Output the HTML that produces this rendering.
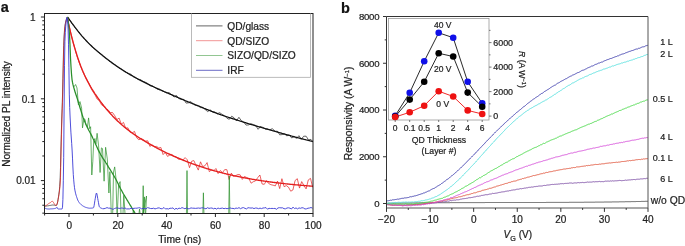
<!DOCTYPE html>
<html><head><meta charset="utf-8"><style>
html,body{margin:0;padding:0;background:#fff;}
svg{display:block;font-family:"Liberation Sans",sans-serif;will-change:transform;}
text{stroke:#222;stroke-width:0.22px;}
</style></head><body>
<svg width="685" height="246" viewBox="0 0 685 246">
<rect width="685" height="246" fill="#fff"/>
<g id="pa">
<defs><clipPath id="ca"><rect x="44.5" y="13.5" width="268.5" height="200"/></clipPath></defs>
<g clip-path="url(#ca)" fill="none" stroke-linejoin="round">
<polyline stroke="#222" stroke-width="0.7" points="44.5,206.2 44.9,206.2 45.3,206.1 45.7,206.1 46.1,206.0 46.5,206.0 46.9,205.9 47.3,205.9 47.7,205.8 48.1,205.8 48.5,205.7 48.9,205.7 49.3,205.6 49.7,205.5 50.1,205.5 50.5,205.4 50.9,205.3 51.3,205.2 51.7,205.2 52.1,205.1 52.5,205.0 52.9,205.0 53.3,205.0 53.7,205.1 54.1,205.1 54.5,205.2 54.9,205.3 55.3,205.4 55.7,205.5 56.1,205.5 56.5,205.3 56.9,204.5 57.3,203.5 57.7,201.8 58.1,199.3 58.5,196.8 58.9,194.2 59.3,191.0 59.7,186.6 60.1,180.1 60.5,167.7 60.9,150.0 61.3,134.5 61.7,120.0 62.1,108.3 62.5,96.0 62.9,78.2 63.3,60.0 63.7,45.4 64.1,36.1 64.5,30.1 64.9,26.4 65.3,23.7 65.7,21.8 66.1,20.3 66.5,19.0 66.9,17.9 67.3,17.2 67.5,17.0 68.5,18.4 70.9,21.8 73.3,25.0 75.7,28.2 78.1,31.3 80.5,34.3 82.9,37.1 85.3,39.7 87.7,42.3 90.1,44.7 92.5,47.0 94.9,49.1 97.3,51.2 99.7,53.2 102.1,55.1 104.5,57.1 106.9,58.9 109.3,60.8 111.7,62.4 114.1,64.1 116.5,65.7 118.9,67.6 121.3,68.9 123.7,70.8 126.1,72.3 128.5,73.6 130.9,74.2 133.3,76.3 135.7,77.8 138.1,79.2 140.5,79.6 142.9,81.3 145.3,82.2 147.7,83.5 150.1,85.8 152.5,85.8 154.9,87.4 157.3,89.2 159.7,89.2 162.1,90.6 164.5,91.8 166.9,92.8 169.3,92.8 171.7,94.9 174.1,97.0 176.5,95.5 178.9,98.7 181.3,99.1 183.7,99.4 186.1,103.1 188.5,102.8 190.9,101.6 193.3,104.0 195.7,105.5 198.1,105.6 200.5,107.6 202.9,107.7 205.3,109.6 207.7,111.6 210.1,109.8 212.5,111.9 214.9,112.0 217.3,113.7 219.7,112.7 222.1,114.4 224.5,115.7 226.9,118.2 229.3,119.3 231.7,116.2 234.1,117.8 236.5,120.9 238.9,117.3 241.3,120.6 243.7,122.0 246.1,125.1 248.5,124.9 250.9,123.8 253.3,124.5 255.7,125.4 258.1,129.3 260.5,126.5 262.9,127.4 265.3,129.2 267.7,129.1 270.1,129.6 272.5,128.7 274.9,131.3 277.3,131.2 279.7,134.8 282.1,134.6 284.5,134.0 286.9,135.9 289.3,134.8 291.7,138.0 294.1,136.7 296.5,138.4 298.9,135.7 301.3,139.3 303.7,136.2 306.1,136.2 308.5,139.9 310.9,139.4 313.3,141.9"/>
<polyline stroke="#111" stroke-width="1.25" points="67.5,17.0 68.0,17.7 68.5,18.4 69.0,19.1 69.5,19.8 70.0,20.5 70.5,21.2 71.0,21.9 71.5,22.6 72.0,23.3 72.5,23.9 73.0,24.6 73.5,25.3 74.0,25.9 74.5,26.6 75.0,27.3 75.5,27.9 76.0,28.6 76.5,29.2 77.0,29.9 77.5,30.5 78.0,31.2 78.5,31.8 79.0,32.4 79.5,33.0 80.0,33.7 80.5,34.3 81.0,34.9 81.5,35.5 82.0,36.1 82.5,36.6 83.0,37.2 83.5,37.8 84.0,38.3 84.5,38.9 85.0,39.4 85.5,39.9 86.0,40.5 86.5,41.0 87.0,41.5 87.5,42.1 88.0,42.6 88.5,43.1 89.0,43.6 89.5,44.1 90.0,44.6 90.5,45.1 91.0,45.5 91.5,46.0 92.0,46.5 92.5,47.0 93.0,47.4 93.5,47.9 94.0,48.3 94.5,48.8 95.0,49.2 95.5,49.6 96.0,50.1 96.5,50.5 97.0,50.9 97.5,51.3 98.0,51.7 98.5,52.2 99.0,52.6 99.5,53.0 100.0,53.4 100.5,53.8 101.0,54.2 101.5,54.6 102.0,55.0 102.5,55.5 103.0,55.9 103.5,56.3 104.0,56.7 104.5,57.1 105.0,57.5 105.5,57.9 106.0,58.3 106.5,58.7 107.0,59.1 107.5,59.5 108.0,59.8 108.5,60.2 109.0,60.6 109.5,61.0 110.0,61.4 110.5,61.7 111.0,62.1 111.5,62.5 112.0,62.9 112.5,63.2 113.0,63.6 113.5,63.9 114.0,64.3 114.5,64.6 115.0,65.0 115.5,65.3 116.0,65.7 116.5,66.0 117.0,66.4 117.5,66.7 118.0,67.1 118.5,67.4 119.0,67.7 119.5,68.1 120.0,68.4 120.5,68.7 121.0,69.0 121.5,69.4 122.0,69.7 122.5,70.0 123.0,70.3 123.5,70.6 124.0,70.9 124.5,71.3 125.0,71.6 125.5,71.9 126.0,72.2 126.5,72.5 127.0,72.8 127.5,73.1 128.0,73.4 128.5,73.7 129.0,74.0 129.5,74.3 130.0,74.6 130.5,74.9 131.0,75.2 131.5,75.5 132.0,75.7 132.5,76.0 133.0,76.3 133.5,76.6 134.0,76.9 134.5,77.1 135.0,77.4 135.5,77.7 136.0,78.0 136.5,78.2 137.0,78.5 137.5,78.8 138.0,79.1 138.5,79.3 139.0,79.6 139.5,79.8 140.0,80.1 140.5,80.4 141.0,80.6 141.5,80.9 142.0,81.1 142.5,81.4 143.0,81.6 143.5,81.9 144.0,82.1 144.5,82.4 145.0,82.6 145.5,82.9 146.0,83.1 146.5,83.4 147.0,83.6 147.5,83.9 148.0,84.1 148.5,84.4 149.0,84.6 149.5,84.8 150.0,85.1 150.5,85.3 151.0,85.6 151.5,85.8 152.0,86.1 152.5,86.3 153.0,86.5 153.5,86.8 154.0,87.0 154.5,87.3 155.0,87.5 155.5,87.7 156.0,88.0 156.5,88.2 157.0,88.4 157.5,88.7 158.0,88.9 158.5,89.1 159.0,89.3 159.5,89.6 160.0,89.8 160.5,90.0 161.0,90.2 161.5,90.5 162.0,90.7 162.5,90.9 163.0,91.1 163.5,91.3 164.0,91.5 164.5,91.8 165.0,92.0 165.5,92.2 166.0,92.4 166.5,92.6 167.0,92.8 167.5,93.0 168.0,93.2 168.5,93.4 169.0,93.6 169.5,93.9 170.0,94.1 170.5,94.3 171.0,94.5 171.5,94.7 172.0,94.9 172.5,95.1 173.0,95.3 173.5,95.6 174.0,95.8 174.5,96.0 175.0,96.2 175.5,96.4 176.0,96.7 176.5,96.9 177.0,97.1 177.5,97.3 178.0,97.5 178.5,97.8 179.0,98.0 179.5,98.2 180.0,98.4 180.5,98.6 181.0,98.9 181.5,99.1 182.0,99.3 182.5,99.5 183.0,99.7 183.5,99.9 184.0,100.1 184.5,100.3 185.0,100.5 185.5,100.8 186.0,101.0 186.5,101.2 187.0,101.4 187.5,101.6 188.0,101.8 188.5,102.0 189.0,102.2 189.5,102.4 190.0,102.6 190.5,102.8 191.0,103.0 191.5,103.2 192.0,103.4 192.5,103.6 193.0,103.8 193.5,104.0 194.0,104.2 194.5,104.4 195.0,104.6 195.5,104.8 196.0,105.0 196.5,105.2 197.0,105.4 197.5,105.6 198.0,105.8 198.5,106.0 199.0,106.2 199.5,106.4 200.0,106.6 200.5,106.8 201.0,107.0 201.5,107.2 202.0,107.4 202.5,107.6 203.0,107.8 203.5,108.0 204.0,108.3 204.5,108.5 205.0,108.7 205.5,108.9 206.0,109.1 206.5,109.3 207.0,109.5 207.5,109.7 208.0,109.9 208.5,110.1 209.0,110.3 209.5,110.5 210.0,110.7 210.5,110.9 211.0,111.1 211.5,111.3 212.0,111.5 212.5,111.7 213.0,111.9 213.5,112.1 214.0,112.3 214.5,112.4 215.0,112.6 215.5,112.8 216.0,113.0 216.5,113.2 217.0,113.4 217.5,113.6 218.0,113.8 218.5,114.0 219.0,114.1 219.5,114.3 220.0,114.5 220.5,114.7 221.0,114.9 221.5,115.0 222.0,115.2 222.5,115.4 223.0,115.5 223.5,115.7 224.0,115.9 224.5,116.0 225.0,116.2 225.5,116.4 226.0,116.5 226.5,116.7 227.0,116.8 227.5,117.0 228.0,117.2 228.5,117.3 229.0,117.5 229.5,117.6 230.0,117.8 230.5,118.0 231.0,118.1 231.5,118.3 232.0,118.4 232.5,118.6 233.0,118.8 233.5,118.9 234.0,119.1 234.5,119.2 235.0,119.4 235.5,119.6 236.0,119.7 236.5,119.9 237.0,120.1 237.5,120.2 238.0,120.4 238.5,120.5 239.0,120.7 239.5,120.9 240.0,121.0 240.5,121.2 241.0,121.3 241.5,121.5 242.0,121.6 242.5,121.8 243.0,122.0 243.5,122.1 244.0,122.3 244.5,122.4 245.0,122.6 245.5,122.7 246.0,122.9 246.5,123.1 247.0,123.2 247.5,123.4 248.0,123.5 248.5,123.7 249.0,123.8 249.5,124.0 250.0,124.1 250.5,124.3 251.0,124.4 251.5,124.6 252.0,124.7 252.5,124.9 253.0,125.0 253.5,125.2 254.0,125.3 254.5,125.5 255.0,125.6 255.5,125.8 256.0,125.9 256.5,126.1 257.0,126.2 257.5,126.4 258.0,126.5 258.5,126.7 259.0,126.8 259.5,126.9 260.0,127.1 260.5,127.2 261.0,127.4 261.5,127.5 262.0,127.7 262.5,127.8 263.0,127.9 263.5,128.1 264.0,128.2 264.5,128.4 265.0,128.5 265.5,128.7 266.0,128.8 266.5,128.9 267.0,129.1 267.5,129.2 268.0,129.4 268.5,129.5 269.0,129.7 269.5,129.8 270.0,129.9 270.5,130.1 271.0,130.2 271.5,130.4 272.0,130.5 272.5,130.7 273.0,130.8 273.5,130.9 274.0,131.1 274.5,131.2 275.0,131.4 275.5,131.5 276.0,131.7 276.5,131.8 277.0,131.9 277.5,132.1 278.0,132.2 278.5,132.4 279.0,132.5 279.5,132.7 280.0,132.8 280.5,132.9 281.0,133.1 281.5,133.2 282.0,133.4 282.5,133.5 283.0,133.6 283.5,133.8 284.0,133.9 284.5,134.1 285.0,134.2 285.5,134.3 286.0,134.5 286.5,134.6 287.0,134.8 287.5,134.9 288.0,135.1 288.5,135.2 289.0,135.3 289.5,135.5 290.0,135.6 290.5,135.7 291.0,135.9 291.5,136.0 292.0,136.2 292.5,136.3 293.0,136.4 293.5,136.6 294.0,136.7 294.5,136.8 295.0,137.0 295.5,137.1 296.0,137.2 296.5,137.4 297.0,137.5 297.5,137.6 298.0,137.8 298.5,137.9 299.0,138.0 299.5,138.2 300.0,138.3 300.5,138.4 301.0,138.6 301.5,138.7 302.0,138.8 302.5,138.9 303.0,139.1 303.5,139.2 304.0,139.3 304.5,139.5 305.0,139.6 305.5,139.7 306.0,139.8 306.5,140.0 307.0,140.1 307.5,140.2 308.0,140.3 308.5,140.5 309.0,140.6 309.5,140.7 310.0,140.8 310.5,141.0 311.0,141.1 311.5,141.2 312.0,141.3 312.5,141.5 313.0,141.6 313.5,141.7"/>
<polyline stroke="#e41e1e" stroke-width="0.7" points="44.5,206.0 44.9,206.0 45.3,205.9 45.7,205.7 46.1,205.6 46.5,205.3 46.9,205.0 47.3,204.6 47.7,204.2 48.1,203.9 48.5,203.7 48.9,203.4 49.3,203.2 49.7,203.0 50.1,202.8 50.5,202.5 50.9,202.2 51.3,201.8 51.7,201.4 52.1,201.2 52.5,201.3 52.9,201.7 53.3,202.2 53.7,202.8 54.1,203.5 54.5,204.2 54.9,204.7 55.3,205.1 55.7,205.4 56.1,205.6 56.5,205.3 56.9,204.4 57.3,203.2 57.7,201.6 58.1,199.5 58.5,197.3 58.9,194.7 59.3,192.2 59.7,189.1 60.1,184.9 60.5,177.4 60.9,159.2 61.3,142.1 61.7,126.9 62.1,113.9 62.5,102.6 62.9,87.8 63.3,68.6 63.7,52.4 64.1,40.0 64.5,32.8 64.9,28.0 65.3,24.8 65.7,22.3 66.1,20.6 66.5,19.2 66.9,18.0 67.3,17.2 67.5,17.0 68.5,23.5 70.7,32.6 72.9,41.5 75.1,49.3 77.3,57.3 79.5,63.5 81.7,68.8 83.9,74.1 86.1,78.5 88.3,81.9 90.5,87.0 92.7,91.4 94.9,94.6 97.1,99.0 99.3,100.6 101.5,104.8 103.7,106.4 105.9,108.4 108.1,109.8 110.3,112.6 112.5,112.5 114.7,115.6 116.9,119.6 119.1,118.1 121.3,124.2 123.5,122.4 125.7,128.3 127.9,127.8 130.1,132.3 132.3,132.8 134.5,131.4 136.7,137.8 138.9,139.8 141.1,138.6 143.3,139.6 145.5,141.1 147.7,140.8 149.9,146.5 152.1,144.5 154.3,146.9 156.5,146.4 158.7,147.9 160.9,147.5 163.1,154.6 165.3,152.4 167.5,156.4 169.7,155.1 171.9,154.4 174.1,156.4 176.3,156.8 178.5,159.3 180.7,159.0 182.9,160.0 185.1,157.6 187.3,159.8 189.5,167.7 191.7,161.2 193.9,160.6 196.1,165.7 198.3,170.1 200.5,161.8 202.7,166.6 204.9,165.8 207.1,162.6 209.3,171.7 211.5,169.8 213.7,170.8 215.9,168.5 218.1,173.6 220.3,170.5 222.5,172.6 224.7,169.6 226.9,169.7 229.1,179.5 231.3,173.1 233.5,176.4 235.7,175.6 237.9,174.5 240.1,174.8 242.3,179.4 244.5,176.5 246.7,177.5 248.9,178.5 251.1,183.2 253.3,181.7 255.5,180.9 257.7,177.7 259.9,175.0 262.1,184.0 264.3,184.3 266.5,180.6 268.7,183.5 270.9,184.7 273.1,185.2 275.3,185.9 277.5,181.1 279.7,188.6 281.9,178.7 284.1,186.7 286.3,185.6 288.5,187.2 290.7,191.2 292.9,190.0 295.1,180.5 297.3,178.7 299.5,188.1 301.7,181.6 303.9,185.5 306.1,188.9 308.3,179.9 310.5,178.4 312.7,187.4"/>
<polyline stroke="#e41e1e" stroke-width="1.35" points="67.5,18.9 68.0,21.2 68.5,23.5 69.0,25.7 69.5,27.9 70.0,30.0 70.5,32.1 71.0,34.1 71.5,36.1 72.0,38.1 72.5,40.0 73.0,41.9 73.5,43.7 74.0,45.5 74.5,47.2 75.0,48.9 75.5,50.6 76.0,52.2 76.5,53.8 77.0,55.4 77.5,56.9 78.0,58.4 78.5,59.9 79.0,61.3 79.5,62.7 80.0,64.0 80.5,65.4 81.0,66.7 81.5,67.9 82.0,69.2 82.5,70.4 83.0,71.6 83.5,72.7 84.0,73.8 84.5,75.0 85.0,76.0 85.5,77.1 86.0,78.1 86.5,79.2 87.0,80.1 87.5,81.1 88.0,82.1 88.5,83.0 89.0,83.9 89.5,84.8 90.0,85.7 90.5,86.6 91.0,87.4 91.5,88.3 92.0,89.1 92.5,89.9 93.0,90.7 93.5,91.5 94.0,92.2 94.5,93.0 95.0,93.8 95.5,94.5 96.0,95.2 96.5,96.0 97.0,96.7 97.5,97.4 98.0,98.1 98.5,98.8 99.0,99.5 99.5,100.2 100.0,100.9 100.5,101.6 101.0,102.2 101.5,102.9 102.0,103.5 102.5,104.2 103.0,104.8 103.5,105.5 104.0,106.1 104.5,106.7 105.0,107.3 105.5,107.9 106.0,108.6 106.5,109.2 107.0,109.7 107.5,110.3 108.0,110.9 108.5,111.5 109.0,112.1 109.5,112.6 110.0,113.2 110.5,113.7 111.0,114.3 111.5,114.8 112.0,115.3 112.5,115.9 113.0,116.4 113.5,116.9 114.0,117.4 114.5,117.9 115.0,118.4 115.5,118.9 116.0,119.4 116.5,119.9 117.0,120.4 117.5,120.9 118.0,121.4 118.5,121.8 119.0,122.3 119.5,122.7 120.0,123.2 120.5,123.6 121.0,124.1 121.5,124.5 122.0,125.0 122.5,125.4 123.0,125.8 123.5,126.3 124.0,126.7 124.5,127.1 125.0,127.5 125.5,127.9 126.0,128.3 126.5,128.7 127.0,129.1 127.5,129.5 128.0,129.9 128.5,130.3 129.0,130.7 129.5,131.0 130.0,131.4 130.5,131.8 131.0,132.2 131.5,132.5 132.0,132.9 132.5,133.2 133.0,133.6 133.5,133.9 134.0,134.3 134.5,134.6 135.0,135.0 135.5,135.3 136.0,135.7 136.5,136.0 137.0,136.3 137.5,136.7 138.0,137.0 138.5,137.3 139.0,137.6 139.5,138.0 140.0,138.3 140.5,138.6 141.0,138.9 141.5,139.2 142.0,139.5 142.5,139.8 143.0,140.1 143.5,140.4 144.0,140.7 144.5,141.0 145.0,141.3 145.5,141.6 146.0,141.9 146.5,142.2 147.0,142.5 147.5,142.8 148.0,143.1 148.5,143.4 149.0,143.7 149.5,143.9 150.0,144.2 150.5,144.5 151.0,144.8 151.5,145.1 152.0,145.3 152.5,145.6 153.0,145.9 153.5,146.2 154.0,146.4 154.5,146.7 155.0,147.0 155.5,147.2 156.0,147.5 156.5,147.8 157.0,148.0 157.5,148.3 158.0,148.6 158.5,148.8 159.0,149.1 159.5,149.3 160.0,149.6 160.5,149.9 161.0,150.1 161.5,150.4 162.0,150.6 162.5,150.9 163.0,151.1 163.5,151.4 164.0,151.6 164.5,151.9 165.0,152.1 165.5,152.3 166.0,152.6 166.5,152.8 167.0,153.1 167.5,153.3 168.0,153.5 168.5,153.8 169.0,154.0 169.5,154.2 170.0,154.5 170.5,154.7 171.0,154.9 171.5,155.2 172.0,155.4 172.5,155.6 173.0,155.8 173.5,156.1 174.0,156.3 174.5,156.5 175.0,156.7 175.5,157.0 176.0,157.2 176.5,157.4 177.0,157.6 177.5,157.8 178.0,158.0 178.5,158.2 179.0,158.5 179.5,158.7 180.0,158.9 180.5,159.1 181.0,159.3 181.5,159.5 182.0,159.7 182.5,159.9 183.0,160.1 183.5,160.3 184.0,160.5 184.5,160.7 185.0,160.9 185.5,161.1 186.0,161.3 186.5,161.5 187.0,161.7 187.5,161.9 188.0,162.1 188.5,162.3 189.0,162.5 189.5,162.6 190.0,162.8 190.5,163.0 191.0,163.2 191.5,163.4 192.0,163.6 192.5,163.8 193.0,163.9 193.5,164.1 194.0,164.3 194.5,164.5 195.0,164.7 195.5,164.8 196.0,165.0 196.5,165.2 197.0,165.4 197.5,165.5 198.0,165.7 198.5,165.9 199.0,166.0 199.5,166.2 200.0,166.4 200.5,166.5 201.0,166.7 201.5,166.9 202.0,167.0 202.5,167.2 203.0,167.4 203.5,167.5 204.0,167.7 204.5,167.8 205.0,168.0 205.5,168.2 206.0,168.3 206.5,168.5 207.0,168.6 207.5,168.8 208.0,168.9 208.5,169.1 209.0,169.2 209.5,169.4 210.0,169.5 210.5,169.7 211.0,169.8 211.5,170.0 212.0,170.1 212.5,170.3 213.0,170.4 213.5,170.5 214.0,170.7 214.5,170.8 215.0,171.0 215.5,171.1 216.0,171.2 216.5,171.4 217.0,171.5 217.5,171.7 218.0,171.8 218.5,171.9 219.0,172.1 219.5,172.2 220.0,172.3 220.5,172.4 221.0,172.6 221.5,172.7 222.0,172.8 222.5,173.0 223.0,173.1 223.5,173.2 224.0,173.3 224.5,173.5 225.0,173.6 225.5,173.7 226.0,173.8 226.5,174.0 227.0,174.1 227.5,174.2 228.0,174.3 228.5,174.4 229.0,174.5 229.5,174.7 230.0,174.8 230.5,174.9 231.0,175.0 231.5,175.1 232.0,175.2 232.5,175.3 233.0,175.5 233.5,175.6 234.0,175.7 234.5,175.8 235.0,175.9 235.5,176.0 236.0,176.1 236.5,176.2 237.0,176.3 237.5,176.4 238.0,176.5 238.5,176.6 239.0,176.7 239.5,176.8 240.0,176.9 240.5,177.0 241.0,177.1 241.5,177.2 242.0,177.3 242.5,177.4 243.0,177.5 243.5,177.6 244.0,177.7 244.5,177.8 245.0,177.9 245.5,178.0 246.0,178.1 246.5,178.2 247.0,178.3 247.5,178.4 248.0,178.5 248.5,178.6 249.0,178.7 249.5,178.7 250.0,178.8 250.5,178.9 251.0,179.0 251.5,179.1 252.0,179.2 252.5,179.3 253.0,179.3 253.5,179.4 254.0,179.5 254.5,179.6 255.0,179.7 255.5,179.8 256.0,179.8 256.5,179.9 257.0,180.0 257.5,180.1 258.0,180.2 258.5,180.2 259.0,180.3 259.5,180.4 260.0,180.5 260.5,180.5 261.0,180.6 261.5,180.7 262.0,180.8 262.5,180.8 263.0,180.9 263.5,181.0 264.0,181.1 264.5,181.1 265.0,181.2 265.5,181.3 266.0,181.4 266.5,181.4 267.0,181.5 267.5,181.6 268.0,181.6 268.5,181.7 269.0,181.8 269.5,181.8 270.0,181.9 270.5,182.0 271.0,182.0 271.5,182.1 272.0,182.2 272.5,182.2 273.0,182.3 273.5,182.4 274.0,182.4 274.5,182.5 275.0,182.5 275.5,182.6 276.0,182.7 276.5,182.7 277.0,182.8 277.5,182.8 278.0,182.9 278.5,183.0 279.0,183.0 279.5,183.1 280.0,183.1 280.5,183.2 281.0,183.3 281.5,183.3 282.0,183.4 282.5,183.4 283.0,183.5 283.5,183.5 284.0,183.6 284.5,183.6 285.0,183.7 285.5,183.8 286.0,183.8 286.5,183.9 287.0,183.9 287.5,184.0 288.0,184.0 288.5,184.1 289.0,184.1 289.5,184.2 290.0,184.2 290.5,184.3 291.0,184.3 291.5,184.4 292.0,184.4 292.5,184.5 293.0,184.5 293.5,184.6 294.0,184.6 294.5,184.7 295.0,184.7 295.5,184.8 296.0,184.8 296.5,184.9 297.0,184.9 297.5,184.9 298.0,185.0 298.5,185.0 299.0,185.1 299.5,185.1 300.0,185.2 300.5,185.2 301.0,185.3 301.5,185.3 302.0,185.3 302.5,185.4 303.0,185.4 303.5,185.5 304.0,185.5 304.5,185.6 305.0,185.6 305.5,185.6 306.0,185.7 306.5,185.7 307.0,185.8 307.5,185.8 308.0,185.9 308.5,185.9 309.0,185.9 309.5,186.0 310.0,186.0 310.5,186.1 311.0,186.1 311.5,186.1 312.0,186.2 312.5,186.2 313.0,186.3 313.5,186.3"/>
<polyline stroke="#2a8f2a" stroke-width="0.7" points="74.0,86.8 75.6,84.5 77.0,88.0 78.4,104.9 80.0,101.6 81.6,108.1 82.5,127.9 83.9,118.9 85.0,119.3 85.9,124.8 87.4,127.2 88.6,117.9 89.7,128.7 90.6,126.7 91.8,175.0 92.8,161.3 93.7,141.3 94.9,138.5 95.9,144.1 97.1,133.3 98.6,145.9 100.1,172.5 101.4,147.9 102.5,148.6 104.1,181.2 105.6,147.3 107.3,158.9 108.9,193.0 109.9,171.7 111.4,218.0 112.6,218.0 113.5,172.1 114.7,166.9 115.9,177.7 117.1,218.0 118.6,185.0 120.1,181.6 121.1,218.0 122.8,218.0 123.8,195.3 125.3,218.0 127.0,218.0 128.5,218.0 129.8,218.0 130.9,218.0 132.4,218.0 133.3,210.2 135.0,218.0 136.2,218.0 137.2,218.0 138.5,218.0 139.5,209.1 140.6,216.9 141.9,218.0 143.2,216.9 144.4,196.9 145.5,218.0 146.5,196.0 142.6,216.0 143.2,185.7 143.8,216.0 186.4,216.0 187.0,170.6 187.6,216.0 202.8,216.0 203.4,192.8 204.0,216.0 228.7,216.0 229.3,175.9 229.9,216.0"/>
<polyline stroke="#2a8f2a" stroke-width="1.25" points="67.5,17.0 68.0,20.2 68.5,24.1 69.0,28.7 69.5,34.5 70.0,44.9 70.5,58.0 71.0,66.7 71.5,74.0 72.0,79.3 72.5,82.4 73.0,84.7 73.5,86.6 74.0,88.3 74.5,90.0 75.0,91.7 75.5,93.3 76.0,94.8 76.5,96.3 77.0,97.8 77.5,99.4 78.0,101.0 78.5,102.7 79.0,104.3 79.5,106.0 80.0,107.7 80.5,109.3 81.0,110.9 81.5,112.5 82.0,114.1 82.5,115.7 83.0,117.2 83.5,118.5 84.0,119.8 84.5,121.0 85.0,122.2 85.5,123.3 86.0,124.4 86.5,125.5 87.0,126.6 87.5,127.6 88.0,128.6 88.5,129.6 89.0,130.6 89.5,131.5 90.0,132.5 90.5,133.4 91.0,134.4 91.5,135.4 92.0,136.4 92.5,137.4 93.0,138.5 93.5,139.5 94.0,140.6 94.5,141.7 95.0,142.8 95.5,143.9 96.0,145.0 96.5,146.1 97.0,147.2 97.5,148.3 98.0,149.4 98.5,150.4 99.0,151.4 99.5,152.4 100.0,153.3 100.5,154.2 101.0,155.1 101.5,155.9 102.0,156.7 102.5,157.6 103.0,158.4 103.5,159.1 104.0,159.9 104.5,160.7 105.0,161.4 105.5,162.2 106.0,163.0 106.5,163.7 107.0,164.5 107.5,165.3 108.0,166.1 108.5,167.0 109.0,167.8 109.5,168.6 110.0,169.4 110.5,170.2 111.0,171.0 111.5,171.8 112.0,172.7 112.5,173.5 113.0,174.3 113.5,175.2 114.0,176.0 114.5,176.9 115.0,177.7 115.5,178.6 116.0,179.5 116.5,180.5 117.0,181.5 117.5,182.5 118.0,183.5 118.5,184.6 119.0,185.6 119.5,186.6 120.0,187.6 120.5,188.6 121.0,189.5 121.5,190.4 122.0,191.3 122.5,192.2 123.0,193.1 123.5,194.0 124.0,194.8 124.5,195.7 125.0,196.5 125.5,197.4 126.0,198.2 126.5,199.0 127.0,199.9 127.5,200.7 128.0,201.5 128.5,202.3 129.0,203.2 129.5,204.0 130.0,204.8 130.5,205.6 131.0,206.4 131.5,207.3 132.0,208.1 132.5,208.9 133.0,209.8 133.5,210.6 134.0,211.4 134.5,212.3 135.0,213.1 135.5,214.0 136.0,214.8 136.5,215.7 137.0,216.5"/>
<polyline stroke="#3a3ad6" stroke-width="0.9" points="44.5,208.0 44.9,208.2 45.3,208.3 45.7,208.5 46.1,208.6 46.5,208.8 46.9,208.9 47.3,208.9 47.7,209.0 48.1,209.0 48.5,209.0 48.9,209.0 49.3,209.0 49.7,209.0 50.1,208.9 50.5,208.9 50.9,208.9 51.3,208.9 51.7,208.8 52.1,208.8 52.5,208.8 52.9,208.7 53.3,208.7 53.7,208.7 54.1,208.6 54.5,208.6 54.9,208.5 55.3,208.4 55.7,208.3 56.1,208.2 56.5,207.8 56.9,207.3 57.3,207.8 57.7,208.7 58.1,209.0 58.5,209.0 58.9,209.0 59.3,209.0 59.7,209.0 60.1,209.0 60.5,209.0 60.9,209.0 61.3,209.0 61.7,209.0 62.1,208.9 62.5,207.2 62.9,199.5 63.3,180.8 63.7,157.7 64.1,110.0 64.5,65.8 64.9,41.7 65.3,32.3 65.7,26.8 66.1,22.5 66.5,19.1 66.9,17.4 67.3,18.1 67.7,21.0 68.1,29.0 68.5,44.2 68.9,67.2 69.3,94.1 69.7,107.4 70.1,117.0 70.5,125.0 70.9,132.1 71.3,138.0 71.7,143.6 72.1,150.0 72.5,158.1 72.9,167.0 73.3,174.6 73.7,179.8 74.1,184.2 74.5,187.7 74.9,190.1 75.3,192.1 75.7,193.8 76.1,195.2 76.5,196.5 76.9,197.7 77.3,198.8 77.7,199.9 78.1,200.8 78.5,201.5 78.9,202.1 79.3,202.7 79.7,203.2 80.1,203.6 80.5,204.0 80.9,204.4 81.3,204.8 81.7,205.1 82.1,205.4 82.5,205.7 82.9,205.9 83.3,206.2 83.7,206.4 84.1,206.6 84.5,206.8 84.9,207.0 85.3,207.2 85.7,207.4 86.1,207.5 86.5,207.6 86.9,207.7 87.3,207.8 87.7,207.9 88.1,208.0 88.5,208.1 88.9,208.1 89.3,208.2 89.7,208.2 90.1,208.2 90.5,208.2 90.9,208.2 91.3,208.2 91.7,208.1 92.1,208.1 92.5,208.0 92.9,207.9 93.3,207.8 93.7,207.5 94.1,205.7 94.5,203.1 94.9,200.5 95.3,198.3 95.7,195.9 96.1,193.8 96.5,193.0 96.9,193.9 97.3,195.9 97.7,198.4 98.1,200.5 98.5,202.7 98.9,205.0 99.3,206.6 99.7,207.2 100.1,207.5 100.5,207.8 100.9,208.0 101.3,208.2 101.7,208.3 102.0,208.3 102.5,208.8 104.0,208.7 105.5,208.3 107.0,207.6 108.5,208.2 110.0,208.1 111.5,208.7 113.0,209.4 114.5,208.5 116.0,208.0 117.5,207.9 119.0,208.4 120.5,208.3 122.0,207.9 123.5,208.5 125.0,207.9 126.5,208.9 128.0,208.9 129.5,208.9 131.0,208.2 132.5,208.6 134.0,208.3 135.5,208.2 137.0,208.2 138.5,207.8 140.0,207.8 141.5,208.8 143.0,208.3 144.5,208.5 146.0,208.9 147.5,207.6 149.0,208.0 150.5,208.5 152.0,208.6 153.5,208.2 155.0,208.9 156.5,208.5 158.0,207.9 159.5,208.0 161.0,208.8 162.5,208.6 164.0,207.5 165.5,209.0 167.0,208.7 168.5,209.0 170.0,208.2 171.5,208.3 173.0,207.9 174.5,209.5 176.0,208.3 177.5,209.1 179.0,208.1 180.5,208.5 182.0,207.6 183.5,208.2 185.0,208.8 186.5,207.8 188.0,208.9 189.5,208.6 191.0,207.9 192.5,208.2 194.0,208.2 195.5,208.4 197.0,208.2 198.5,208.0 200.0,208.3 201.5,207.9 203.0,207.8 204.5,208.4 206.0,208.8 207.5,207.7 209.0,208.4 210.5,208.1 212.0,208.0 213.5,208.8 215.0,208.2 216.5,209.1 218.0,208.0 219.5,208.6 221.0,208.3 222.5,208.1 224.0,208.7 225.5,208.3 227.0,208.7 228.5,208.4 230.0,207.9 231.5,208.4 233.0,208.4 234.5,208.8 236.0,208.0 237.5,208.4 239.0,207.6 240.5,208.7 242.0,207.9 243.5,207.6 245.0,208.4 246.5,208.9 248.0,207.7 249.5,207.9 251.0,208.1 252.5,207.9 254.0,208.6 255.5,208.0 257.0,208.1 258.5,208.7 260.0,208.1 261.5,208.6 263.0,208.0 264.5,207.9 266.0,207.6 267.5,209.2 269.0,208.3 270.5,208.5 272.0,208.4 273.5,208.5 275.0,208.4 276.5,209.3 278.0,207.9 279.5,207.7 281.0,207.9 282.5,207.8 284.0,208.7 285.5,208.8 287.0,208.0 288.5,207.8 290.0,208.2 291.5,209.0 293.0,207.1 294.5,208.6 296.0,207.9 297.5,208.9 299.0,207.9 300.5,208.3 302.0,207.7 303.5,208.0 305.0,209.0 306.5,208.8 308.0,208.2 309.5,208.0 311.0,207.5 312.5,208.2"/>
</g>
<g stroke="#222" fill="none" stroke-width="1">
<rect x="44.5" y="13.5" width="268.5" height="200.0"/>
<line x1="44.60" y1="213.5" x2="44.60" y2="215.5"/>
<line x1="69.00" y1="213.5" x2="69.00" y2="217.0"/>
<line x1="93.40" y1="213.5" x2="93.40" y2="215.5"/>
<line x1="117.80" y1="213.5" x2="117.80" y2="217.0"/>
<line x1="142.20" y1="213.5" x2="142.20" y2="215.5"/>
<line x1="166.60" y1="213.5" x2="166.60" y2="217.0"/>
<line x1="191.00" y1="213.5" x2="191.00" y2="215.5"/>
<line x1="215.40" y1="213.5" x2="215.40" y2="217.0"/>
<line x1="239.80" y1="213.5" x2="239.80" y2="215.5"/>
<line x1="264.20" y1="213.5" x2="264.20" y2="217.0"/>
<line x1="288.60" y1="213.5" x2="288.60" y2="215.5"/>
<line x1="313.00" y1="213.5" x2="313.00" y2="217.0"/>
<line x1="40.90" y1="17.00" x2="44.5" y2="17.00"/>
<line x1="40.90" y1="98.80" x2="44.5" y2="98.80"/>
<line x1="42.30" y1="74.18" x2="44.5" y2="74.18"/>
<line x1="42.30" y1="59.77" x2="44.5" y2="59.77"/>
<line x1="42.30" y1="49.55" x2="44.5" y2="49.55"/>
<line x1="42.30" y1="41.62" x2="44.5" y2="41.62"/>
<line x1="42.30" y1="35.15" x2="44.5" y2="35.15"/>
<line x1="42.30" y1="29.67" x2="44.5" y2="29.67"/>
<line x1="42.30" y1="24.93" x2="44.5" y2="24.93"/>
<line x1="42.30" y1="20.74" x2="44.5" y2="20.74"/>
<line x1="40.90" y1="180.60" x2="44.5" y2="180.60"/>
<line x1="42.30" y1="155.98" x2="44.5" y2="155.98"/>
<line x1="42.30" y1="141.57" x2="44.5" y2="141.57"/>
<line x1="42.30" y1="131.35" x2="44.5" y2="131.35"/>
<line x1="42.30" y1="123.42" x2="44.5" y2="123.42"/>
<line x1="42.30" y1="116.95" x2="44.5" y2="116.95"/>
<line x1="42.30" y1="111.47" x2="44.5" y2="111.47"/>
<line x1="42.30" y1="106.73" x2="44.5" y2="106.73"/>
<line x1="42.30" y1="102.54" x2="44.5" y2="102.54"/>
<line x1="42.30" y1="213.15" x2="44.5" y2="213.15"/>
<line x1="42.30" y1="205.22" x2="44.5" y2="205.22"/>
<line x1="42.30" y1="198.75" x2="44.5" y2="198.75"/>
<line x1="42.30" y1="193.27" x2="44.5" y2="193.27"/>
<line x1="42.30" y1="188.53" x2="44.5" y2="188.53"/>
<line x1="42.30" y1="184.34" x2="44.5" y2="184.34"/>
</g>
<g font-size="10" fill="#222" text-anchor="middle">
<text x="69.2" y="228.8">0</text>
<text x="118.0" y="228.8">20</text>
<text x="166.8" y="228.8">40</text>
<text x="215.6" y="228.8">60</text>
<text x="264.4" y="228.8">80</text>
<text x="313.2" y="228.8">100</text>
</g>
<g font-size="10" fill="#222" text-anchor="end">
<text x="35.6" y="20.7">1</text>
<text x="35.6" y="102.5">0.1</text>
<text x="35.6" y="184.3">0.01</text>
</g>
<text x="158.2" y="243" font-size="10.3" fill="#222">Time (ns)</text>
<text transform="translate(9.6,114) rotate(-90)" font-size="10.1" fill="#222" text-anchor="middle">Normalized PL intensity</text>
<text x="0.7" y="12.4" font-size="14.5" font-weight="bold" fill="#111">a</text>
<rect x="191.5" y="13.5" width="119" height="63.8" fill="#fff" stroke="#aaa" stroke-width="0.8"/>
<line x1="191.5" y1="13.5" x2="310.5" y2="13.5" stroke="#222" stroke-width="1"/>
<line x1="196" y1="25.9" x2="222.5" y2="25.9" stroke="#555" stroke-width="0.9"/>
<text x="227.3" y="29.8" font-size="10.2" fill="#222">QD/glass</text>
<line x1="196" y1="40.7" x2="222.5" y2="40.7" stroke="#f08a8a" stroke-width="0.9"/>
<text x="227.3" y="44.6" font-size="10.2" fill="#222">QD/SIZO</text>
<line x1="196" y1="55.5" x2="222.5" y2="55.5" stroke="#86bf86" stroke-width="0.9"/>
<text x="227.3" y="59.4" font-size="10.2" fill="#222">SIZO/QD/SIZO</text>
<line x1="196" y1="70.3" x2="222.5" y2="70.3" stroke="#5a5ac0" stroke-width="0.9"/>
<text x="227.3" y="74.2" font-size="10.2" fill="#222">IRF</text>
</g>
<g id="pb">
<defs><clipPath id="cb"><rect x="386.5" y="16.5" width="261.5" height="191.5"/></clipPath></defs>
<g clip-path="url(#cb)" fill="none" stroke-linejoin="round">
<polyline stroke="#4a4a4a" stroke-width="0.9" points="386.5,203.3 387.5,203.3 388.5,203.2 389.5,203.2 390.5,203.2 391.5,203.2 392.5,203.2 393.5,203.2 394.5,203.1 395.5,203.1 396.5,203.1 397.5,203.1 398.5,203.1 399.5,203.1 400.5,203.1 401.5,203.1 402.5,203.0 403.5,203.0 404.5,203.0 405.5,203.0 406.5,203.0 407.5,203.0 408.5,203.0 409.5,203.0 410.5,202.9 411.5,202.9 412.5,202.9 413.5,202.9 414.5,202.9 415.5,202.9 416.5,202.9 417.5,202.9 418.5,202.9 419.5,202.9 420.5,202.8 421.5,202.8 422.5,202.8 423.5,202.8 424.5,202.8 425.5,202.8 426.5,202.8 427.5,202.8 428.5,202.8 429.5,202.8 430.5,202.8 431.5,202.8 432.5,202.7 433.5,202.7 434.5,202.7 435.5,202.7 436.5,202.7 437.5,202.7 438.5,202.7 439.5,202.7 440.5,202.7 441.5,202.7 442.5,202.7 443.5,202.7 444.5,202.7 445.5,202.7 446.5,202.7 447.5,202.7 448.5,202.7 449.5,202.7 450.5,202.6 451.5,202.6 452.5,202.6 453.5,202.6 454.5,202.6 455.5,202.6 456.5,202.6 457.5,202.6 458.5,202.6 459.5,202.6 460.5,202.6 461.5,202.6 462.5,202.6 463.5,202.6 464.5,202.6 465.5,202.6 466.5,202.6 467.5,202.6 468.5,202.6 469.5,202.6 470.5,202.6 471.5,202.6 472.5,202.6 473.5,202.6 474.5,202.6 475.5,202.6 476.5,202.6 477.5,202.6 478.5,202.6 479.5,202.6 480.5,202.6 481.5,202.6 482.5,202.6 483.5,202.6 484.5,202.6 485.5,202.5 486.5,202.5 487.5,202.5 488.5,202.5 489.5,202.5 490.5,202.5 491.5,202.5 492.5,202.5 493.5,202.5 494.5,202.5 495.5,202.5 496.5,202.5 497.5,202.5 498.5,202.5 499.5,202.5 500.5,202.5 501.5,202.5 502.5,202.5 503.5,202.5 504.5,202.5 505.5,202.5 506.5,202.5 507.5,202.5 508.5,202.5 509.5,202.5 510.5,202.5 511.5,202.5 512.5,202.5 513.5,202.5 514.5,202.5 515.5,202.5 516.5,202.5 517.5,202.5 518.5,202.5 519.5,202.5 520.5,202.5 521.5,202.5 522.5,202.5 523.5,202.5 524.5,202.5 525.5,202.5 526.5,202.5 527.5,202.5 528.5,202.5 529.5,202.5 530.5,202.5 531.5,202.5 532.5,202.5 533.5,202.5 534.5,202.5 535.5,202.5 536.5,202.5 537.5,202.5 538.5,202.5 539.5,202.5 540.5,202.5 541.5,202.5 542.5,202.5 543.5,202.5 544.5,202.5 545.5,202.5 546.5,202.4 547.5,202.4 548.5,202.4 549.5,202.4 550.5,202.4 551.5,202.4 552.5,202.4 553.5,202.4 554.5,202.4 555.5,202.4 556.5,202.4 557.5,202.4 558.5,202.4 559.5,202.4 560.5,202.4 561.5,202.4 562.5,202.4 563.5,202.4 564.5,202.4 565.5,202.4 566.5,202.4 567.5,202.4 568.5,202.4 569.5,202.3 570.5,202.3 571.5,202.3 572.5,202.3 573.5,202.3 574.5,202.3 575.5,202.3 576.5,202.3 577.5,202.3 578.5,202.3 579.5,202.3 580.5,202.3 581.5,202.3 582.5,202.3 583.5,202.3 584.5,202.2 585.5,202.2 586.5,202.2 587.5,202.2 588.5,202.2 589.5,202.2 590.5,202.2 591.5,202.2 592.5,202.2 593.5,202.2 594.5,202.2 595.5,202.1 596.5,202.1 597.5,202.1 598.5,202.1 599.5,202.1 600.5,202.1 601.5,202.1 602.5,202.1 603.5,202.1 604.5,202.0 605.5,202.0 606.5,202.0 607.5,202.0 608.5,202.0 609.5,202.0 610.5,202.0 611.5,202.0 612.5,201.9 613.5,201.9 614.5,201.9 615.5,201.9 616.5,201.9 617.5,201.9 618.5,201.9 619.5,201.8 620.5,201.8 621.5,201.8 622.5,201.8 623.5,201.8 624.5,201.8 625.5,201.7 626.5,201.7 627.5,201.7 628.5,201.7 629.5,201.7 630.5,201.7 631.5,201.6 632.5,201.6 633.5,201.6 634.5,201.6 635.5,201.6 636.5,201.5 637.5,201.5 638.5,201.5 639.5,201.5 640.5,201.5 641.5,201.4 642.5,201.4 643.5,201.4 644.5,201.4 645.5,201.3 646.5,201.3 647.5,201.3 648.0,201.3"/>
<polyline stroke="#7d4fa5" stroke-width="0.9" points="386.5,204.6 387.5,204.7 388.5,204.7 389.5,204.6 390.5,204.8 391.5,204.8 392.5,205.0 393.5,205.1 394.5,204.9 395.5,204.8 396.5,204.9 397.5,204.9 398.5,204.9 399.5,205.0 400.5,204.8 401.5,205.0 402.5,204.9 403.5,205.0 404.5,204.9 405.5,204.8 406.5,204.8 407.5,204.8 408.5,204.8 409.5,204.8 410.5,204.8 411.5,204.5 412.5,204.7 413.5,204.5 414.5,204.5 415.5,204.5 416.5,204.2 417.5,204.4 418.5,204.3 419.5,204.2 420.5,204.1 421.5,204.1 422.5,203.9 423.5,203.9 424.5,203.8 425.5,203.8 426.5,203.5 427.5,203.6 428.5,203.5 429.5,203.4 430.5,203.2 431.5,203.3 432.5,202.9 433.5,203.0 434.5,202.9 435.5,202.8 436.5,202.7 437.5,202.4 438.5,202.4 439.5,202.4 440.5,202.2 441.5,202.1 442.5,201.7 443.5,201.8 444.5,201.8 445.5,201.6 446.5,201.4 447.5,201.0 448.5,201.2 449.5,200.9 450.5,200.5 451.5,200.7 452.5,200.3 453.5,200.2 454.5,200.1 455.5,200.2 456.5,199.8 457.5,199.8 458.5,199.8 459.5,199.6 460.5,199.2 461.5,199.1 462.5,198.8 463.5,198.7 464.5,198.6 465.5,198.5 466.5,198.3 467.5,198.2 468.5,197.8 469.5,197.7 470.5,197.7 471.5,197.5 472.5,197.4 473.5,197.1 474.5,196.9 475.5,196.8 476.5,196.4 477.5,196.2 478.5,196.3 479.5,196.0 480.5,195.9 481.5,195.4 482.5,195.4 483.5,195.2 484.5,195.0 485.5,194.7 486.5,194.7 487.5,194.7 488.5,194.4 489.5,194.1 490.5,194.0 491.5,193.9 492.5,193.3 493.5,193.5 494.5,193.4 495.5,193.2 496.5,193.1 497.5,192.9 498.5,192.6 499.5,192.4 500.5,192.3 501.5,192.0 502.5,191.9 503.5,191.8 504.5,191.7 505.5,191.3 506.5,191.2 507.5,191.0 508.5,191.0 509.5,190.6 510.5,190.6 511.5,190.2 512.5,190.1 513.5,189.9 514.5,189.9 515.5,189.7 516.5,189.3 517.5,189.2 518.5,189.2 519.5,188.9 520.5,188.6 521.5,188.8 522.5,188.5 523.5,188.4 524.5,188.1 525.5,188.1 526.5,187.8 527.5,187.8 528.5,187.4 529.5,187.3 530.5,187.3 531.5,187.0 532.5,187.1 533.5,186.9 534.5,186.6 535.5,186.6 536.5,186.4 537.5,186.4 538.5,186.1 539.5,186.0 540.5,186.0 541.5,186.0 542.5,185.9 543.5,185.5 544.5,185.4 545.5,185.5 546.5,185.2 547.5,185.0 548.5,185.0 549.5,184.9 550.5,184.7 551.5,184.5 552.5,184.4 553.5,184.5 554.5,184.3 555.5,184.3 556.5,184.2 557.5,184.2 558.5,184.0 559.5,184.0 560.5,183.7 561.5,183.7 562.5,183.6 563.5,183.8 564.5,183.5 565.5,183.4 566.5,183.4 567.5,183.3 568.5,183.3 569.5,183.0 570.5,183.0 571.5,183.0 572.5,183.3 573.5,183.1 574.5,182.9 575.5,182.9 576.5,183.0 577.5,182.7 578.5,182.6 579.5,182.8 580.5,182.6 581.5,182.6 582.5,182.4 583.5,182.6 584.5,182.6 585.5,182.4 586.5,182.3 587.5,182.0 588.5,182.2 589.5,182.1 590.5,182.1 591.5,182.1 592.5,181.9 593.5,181.7 594.5,181.9 595.5,181.7 596.5,181.7 597.5,181.7 598.5,181.6 599.5,181.4 600.5,181.7 601.5,181.6 602.5,181.6 603.5,181.7 604.5,181.4 605.5,181.1 606.5,181.2 607.5,181.1 608.5,181.1 609.5,181.2 610.5,180.9 611.5,181.1 612.5,180.8 613.5,181.0 614.5,180.9 615.5,180.8 616.5,180.8 617.5,180.7 618.5,180.6 619.5,180.4 620.5,180.5 621.5,180.7 622.5,180.6 623.5,180.5 624.5,180.4 625.5,180.1 626.5,180.3 627.5,180.1 628.5,180.0 629.5,179.9 630.5,179.9 631.5,179.7 632.5,179.7 633.5,179.5 634.5,179.5 635.5,179.7 636.5,179.3 637.5,179.2 638.5,179.2 639.5,179.2 640.5,178.9 641.5,178.9 642.5,178.9 643.5,178.7 644.5,178.6 645.5,178.7 646.5,178.3 647.5,178.3 648.0,178.1"/>
<polyline stroke="#e0553c" stroke-width="0.9" points="386.5,204.8 387.5,204.5 388.5,204.7 389.5,204.8 390.5,205.0 391.5,205.1 392.5,205.3 393.5,205.0 394.5,205.3 395.5,205.2 396.5,205.2 397.5,205.4 398.5,205.2 399.5,205.1 400.5,205.3 401.5,205.2 402.5,205.3 403.5,205.4 404.5,205.3 405.5,205.5 406.5,205.2 407.5,205.0 408.5,205.1 409.5,205.0 410.5,204.9 411.5,205.1 412.5,204.9 413.5,204.6 414.5,204.9 415.5,204.7 416.5,204.7 417.5,204.6 418.5,204.5 419.5,204.4 420.5,204.4 421.5,204.2 422.5,204.1 423.5,203.9 424.5,203.6 425.5,203.6 426.5,203.5 427.5,203.4 428.5,203.1 429.5,203.3 430.5,202.9 431.5,202.6 432.5,202.4 433.5,202.4 434.5,202.3 435.5,202.0 436.5,201.9 437.5,201.7 438.5,201.6 439.5,201.3 440.5,201.2 441.5,201.1 442.5,201.1 443.5,200.4 444.5,200.3 445.5,200.1 446.5,200.0 447.5,199.6 448.5,199.4 449.5,199.3 450.5,198.9 451.5,198.7 452.5,198.5 453.5,198.1 454.5,197.9 455.5,197.8 456.5,197.6 457.5,197.4 458.5,196.9 459.5,196.8 460.5,196.7 461.5,196.4 462.5,196.1 463.5,195.7 464.5,195.7 465.5,195.2 466.5,194.9 467.5,194.7 468.5,194.7 469.5,194.3 470.5,194.1 471.5,193.6 472.5,193.5 473.5,193.0 474.5,192.8 475.5,192.8 476.5,192.4 477.5,191.9 478.5,191.7 479.5,191.4 480.5,191.3 481.5,190.8 482.5,190.3 483.5,190.2 484.5,189.9 485.5,189.7 486.5,189.5 487.5,189.1 488.5,188.9 489.5,188.3 490.5,188.3 491.5,188.1 492.5,187.7 493.5,187.3 494.5,187.0 495.5,186.9 496.5,186.2 497.5,186.0 498.5,185.8 499.5,185.5 500.5,185.1 501.5,184.9 502.5,184.5 503.5,184.3 504.5,183.9 505.5,183.5 506.5,183.4 507.5,183.2 508.5,182.6 509.5,182.4 510.5,182.3 511.5,181.7 512.5,181.6 513.5,181.2 514.5,181.1 515.5,181.0 516.5,180.7 517.5,180.1 518.5,179.9 519.5,179.6 520.5,179.3 521.5,179.2 522.5,178.5 523.5,178.6 524.5,178.1 525.5,178.0 526.5,177.6 527.5,177.2 528.5,177.1 529.5,176.9 530.5,176.5 531.5,176.3 532.5,175.9 533.5,175.5 534.5,175.6 535.5,175.3 536.5,175.0 537.5,174.7 538.5,174.6 539.5,174.2 540.5,173.9 541.5,173.7 542.5,173.6 543.5,173.1 544.5,173.2 545.5,172.7 546.5,172.4 547.5,172.5 548.5,172.1 549.5,171.8 550.5,171.7 551.5,171.6 552.5,171.4 553.5,171.0 554.5,170.9 555.5,170.8 556.5,170.4 557.5,170.3 558.5,170.1 559.5,169.9 560.5,169.7 561.5,169.6 562.5,169.4 563.5,169.1 564.5,169.0 565.5,169.0 566.5,168.7 567.5,168.6 568.5,168.5 569.5,168.3 570.5,168.3 571.5,167.8 572.5,167.8 573.5,167.5 574.5,167.6 575.5,167.5 576.5,166.9 577.5,166.9 578.5,166.9 579.5,166.8 580.5,166.6 581.5,166.4 582.5,166.3 583.5,166.2 584.5,166.0 585.5,166.0 586.5,165.5 587.5,165.7 588.5,165.4 589.5,165.5 590.5,165.2 591.5,165.0 592.5,165.0 593.5,164.8 594.5,164.6 595.5,164.4 596.5,164.5 597.5,164.5 598.5,164.4 599.5,164.1 600.5,164.2 601.5,163.9 602.5,163.8 603.5,163.8 604.5,163.7 605.5,163.4 606.5,163.3 607.5,163.2 608.5,163.1 609.5,162.9 610.5,163.0 611.5,162.8 612.5,162.7 613.5,162.5 614.5,162.5 615.5,162.4 616.5,162.2 617.5,162.4 618.5,162.1 619.5,162.1 620.5,161.9 621.5,161.6 622.5,161.5 623.5,161.5 624.5,161.4 625.5,161.3 626.5,161.1 627.5,160.8 628.5,160.9 629.5,160.5 630.5,160.7 631.5,160.5 632.5,160.3 633.5,160.3 634.5,160.2 635.5,159.9 636.5,159.7 637.5,159.7 638.5,159.5 639.5,159.5 640.5,159.6 641.5,159.2 642.5,159.3 643.5,158.9 644.5,159.0 645.5,158.8 646.5,158.7 647.5,158.6 648.0,158.7"/>
<polyline stroke="#d54cd8" stroke-width="0.9" points="386.5,204.2 387.5,204.3 388.5,204.3 389.5,204.7 390.5,204.7 391.5,205.0 392.5,205.0 393.5,205.3 394.5,204.9 395.5,205.2 396.5,205.4 397.5,205.4 398.5,205.4 399.5,205.5 400.5,205.4 401.5,205.6 402.5,206.0 403.5,205.8 404.5,205.6 405.5,205.6 406.5,205.7 407.5,205.8 408.5,205.6 409.5,205.6 410.5,205.8 411.5,205.7 412.5,205.5 413.5,205.4 414.5,205.3 415.5,205.3 416.5,205.0 417.5,205.3 418.5,205.1 419.5,205.1 420.5,205.1 421.5,204.9 422.5,204.5 423.5,204.7 424.5,204.5 425.5,204.2 426.5,204.0 427.5,203.9 428.5,203.6 429.5,203.8 430.5,203.1 431.5,203.1 432.5,203.0 433.5,202.7 434.5,202.6 435.5,202.4 436.5,202.1 437.5,202.0 438.5,201.3 439.5,201.3 440.5,201.0 441.5,200.8 442.5,200.5 443.5,200.1 444.5,199.8 445.5,199.7 446.5,199.3 447.5,198.9 448.5,198.9 449.5,198.5 450.5,197.7 451.5,197.6 452.5,197.5 453.5,196.9 454.5,196.5 455.5,196.0 456.5,195.6 457.5,195.2 458.5,194.8 459.5,194.5 460.5,193.9 461.5,193.5 462.5,193.0 463.5,192.7 464.5,192.1 465.5,191.8 466.5,191.5 467.5,190.9 468.5,190.5 469.5,190.0 470.5,189.5 471.5,189.0 472.5,188.5 473.5,188.2 474.5,187.5 475.5,187.3 476.5,186.7 477.5,186.1 478.5,185.7 479.5,185.2 480.5,184.9 481.5,184.3 482.5,184.1 483.5,183.4 484.5,182.8 485.5,182.5 486.5,181.9 487.5,181.7 488.5,181.4 489.5,180.9 490.5,180.2 491.5,179.9 492.5,179.7 493.5,179.1 494.5,178.7 495.5,178.4 496.5,178.1 497.5,177.6 498.5,177.0 499.5,176.6 500.5,176.2 501.5,175.7 502.5,175.2 503.5,175.0 504.5,174.4 505.5,174.1 506.5,173.8 507.5,173.6 508.5,172.9 509.5,172.6 510.5,172.2 511.5,171.9 512.5,171.6 513.5,171.0 514.5,170.6 515.5,170.1 516.5,169.8 517.5,169.6 518.5,169.2 519.5,168.7 520.5,168.4 521.5,168.1 522.5,167.8 523.5,167.3 524.5,167.0 525.5,166.5 526.5,166.2 527.5,166.2 528.5,165.4 529.5,165.3 530.5,165.0 531.5,164.6 532.5,164.2 533.5,164.0 534.5,163.6 535.5,163.3 536.5,162.8 537.5,162.7 538.5,162.2 539.5,162.0 540.5,161.8 541.5,161.5 542.5,161.2 543.5,160.7 544.5,160.6 545.5,160.3 546.5,160.0 547.5,159.8 548.5,159.3 549.5,159.0 550.5,158.8 551.5,158.3 552.5,158.2 553.5,157.8 554.5,157.6 555.5,157.1 556.5,156.9 557.5,156.8 558.5,156.6 559.5,156.4 560.5,156.0 561.5,155.7 562.5,155.3 563.5,155.2 564.5,154.9 565.5,154.7 566.5,154.6 567.5,154.2 568.5,153.7 569.5,153.6 570.5,153.2 571.5,153.0 572.5,153.1 573.5,152.7 574.5,152.3 575.5,152.3 576.5,152.1 577.5,151.7 578.5,151.4 579.5,151.2 580.5,151.1 581.5,150.9 582.5,150.7 583.5,150.5 584.5,150.2 585.5,150.0 586.5,149.7 587.5,149.3 588.5,149.2 589.5,149.0 590.5,148.7 591.5,148.7 592.5,148.3 593.5,148.0 594.5,148.1 595.5,147.8 596.5,147.5 597.5,147.4 598.5,147.2 599.5,146.9 600.5,146.3 601.5,146.4 602.5,146.2 603.5,145.9 604.5,145.8 605.5,145.8 606.5,145.4 607.5,145.1 608.5,145.2 609.5,144.8 610.5,144.5 611.5,144.4 612.5,144.3 613.5,143.9 614.5,143.9 615.5,143.5 616.5,143.3 617.5,143.2 618.5,143.1 619.5,142.7 620.5,142.7 621.5,142.4 622.5,142.6 623.5,142.0 624.5,142.0 625.5,141.6 626.5,141.4 627.5,141.3 628.5,141.2 629.5,141.0 630.5,140.7 631.5,140.4 632.5,140.2 633.5,140.2 634.5,140.0 635.5,139.9 636.5,139.6 637.5,139.4 638.5,139.3 639.5,138.9 640.5,138.6 641.5,138.4 642.5,138.2 643.5,138.3 644.5,137.9 645.5,137.9 646.5,137.6 647.5,137.6 648.0,137.4"/>
<polyline stroke="#45d845" stroke-width="0.9" points="386.5,203.7 387.5,203.7 388.5,203.8 389.5,203.8 390.5,203.7 391.5,203.8 392.5,204.0 393.5,203.7 394.5,203.9 395.5,203.8 396.5,203.9 397.5,204.0 398.5,203.9 399.5,204.0 400.5,203.8 401.5,204.1 402.5,203.9 403.5,204.0 404.5,204.0 405.5,203.6 406.5,203.8 407.5,203.9 408.5,204.0 409.5,203.9 410.5,203.8 411.5,203.6 412.5,203.9 413.5,203.9 414.5,203.6 415.5,203.5 416.5,203.2 417.5,203.4 418.5,203.6 419.5,203.2 420.5,203.2 421.5,203.0 422.5,202.7 423.5,202.8 424.5,202.4 425.5,202.3 426.5,202.2 427.5,202.1 428.5,201.9 429.5,201.7 430.5,201.3 431.5,201.1 432.5,201.0 433.5,200.7 434.5,200.3 435.5,200.1 436.5,199.9 437.5,199.4 438.5,199.2 439.5,198.9 440.5,198.7 441.5,198.4 442.5,198.3 443.5,197.5 444.5,197.2 445.5,197.0 446.5,196.4 447.5,196.0 448.5,195.8 449.5,195.1 450.5,194.5 451.5,194.1 452.5,193.8 453.5,193.3 454.5,192.6 455.5,192.1 456.5,191.7 457.5,191.2 458.5,190.5 459.5,190.1 460.5,189.5 461.5,188.7 462.5,188.3 463.5,187.8 464.5,187.1 465.5,186.3 466.5,186.0 467.5,185.5 468.5,185.0 469.5,183.9 470.5,183.9 471.5,182.8 472.5,182.5 473.5,181.9 474.5,181.2 475.5,180.5 476.5,179.7 477.5,179.3 478.5,178.6 479.5,177.7 480.5,177.8 481.5,176.9 482.5,176.4 483.5,175.5 484.5,175.2 485.5,174.6 486.5,174.0 487.5,173.2 488.5,172.5 489.5,172.0 490.5,171.2 491.5,170.7 492.5,170.3 493.5,169.6 494.5,169.1 495.5,168.5 496.5,168.2 497.5,167.5 498.5,166.8 499.5,166.4 500.5,165.6 501.5,165.1 502.5,164.7 503.5,163.8 504.5,163.4 505.5,162.7 506.5,162.3 507.5,162.0 508.5,161.1 509.5,160.7 510.5,160.0 511.5,159.5 512.5,158.9 513.5,158.7 514.5,158.3 515.5,157.5 516.5,156.8 517.5,156.5 518.5,155.8 519.5,155.4 520.5,154.9 521.5,154.4 522.5,153.9 523.5,153.2 524.5,152.7 525.5,152.1 526.5,151.7 527.5,151.1 528.5,150.8 529.5,150.2 530.5,149.8 531.5,149.3 532.5,148.6 533.5,148.2 534.5,147.7 535.5,147.4 536.5,147.1 537.5,146.5 538.5,145.9 539.5,145.6 540.5,144.8 541.5,144.7 542.5,144.0 543.5,143.3 544.5,143.5 545.5,142.9 546.5,142.1 547.5,141.8 548.5,141.3 549.5,140.9 550.5,140.3 551.5,139.9 552.5,139.6 553.5,139.2 554.5,138.9 555.5,138.3 556.5,138.1 557.5,137.3 558.5,137.0 559.5,136.3 560.5,136.0 561.5,135.9 562.5,135.2 563.5,134.9 564.5,134.4 565.5,133.9 566.5,133.6 567.5,133.1 568.5,132.7 569.5,132.4 570.5,132.0 571.5,131.4 572.5,131.0 573.5,130.7 574.5,130.2 575.5,129.9 576.5,129.7 577.5,129.1 578.5,128.6 579.5,128.1 580.5,127.6 581.5,127.2 582.5,126.8 583.5,126.4 584.5,126.0 585.5,125.7 586.5,125.1 587.5,124.7 588.5,124.2 589.5,124.1 590.5,123.5 591.5,123.3 592.5,122.7 593.5,122.3 594.5,121.7 595.5,121.4 596.5,121.2 597.5,120.3 598.5,120.1 599.5,119.7 600.5,119.1 601.5,118.7 602.5,118.4 603.5,117.7 604.5,117.4 605.5,116.8 606.5,116.3 607.5,115.9 608.5,115.5 609.5,115.1 610.5,114.7 611.5,114.0 612.5,114.0 613.5,113.4 614.5,112.9 615.5,112.4 616.5,112.0 617.5,111.6 618.5,111.2 619.5,110.5 620.5,110.4 621.5,110.2 622.5,109.2 623.5,109.1 624.5,108.7 625.5,108.2 626.5,108.0 627.5,107.3 628.5,107.0 629.5,106.8 630.5,106.2 631.5,105.8 632.5,105.5 633.5,105.0 634.5,104.9 635.5,104.2 636.5,104.0 637.5,103.4 638.5,103.3 639.5,102.8 640.5,102.1 641.5,102.0 642.5,101.5 643.5,101.2 644.5,101.1 645.5,100.4 646.5,100.0 647.5,99.9 648.0,99.5"/>
<polyline stroke="#55e0de" stroke-width="0.9" points="386.5,203.6 387.5,203.3 388.5,203.0 389.5,203.0 390.5,203.1 391.5,202.9 392.5,202.7 393.5,202.6 394.5,202.6 395.5,202.4 396.5,202.7 397.5,202.4 398.5,202.2 399.5,202.3 400.5,202.4 401.5,202.3 402.5,202.2 403.5,202.1 404.5,202.2 405.5,202.0 406.5,202.0 407.5,202.2 408.5,202.0 409.5,202.1 410.5,202.1 411.5,202.0 412.5,201.9 413.5,202.1 414.5,201.8 415.5,201.6 416.5,201.7 417.5,201.5 418.5,201.3 419.5,201.3 420.5,201.1 421.5,200.7 422.5,200.8 423.5,200.6 424.5,200.4 425.5,200.0 426.5,199.9 427.5,199.7 428.5,199.4 429.5,199.0 430.5,198.9 431.5,198.3 432.5,198.0 433.5,197.8 434.5,197.2 435.5,196.7 436.5,196.5 437.5,195.8 438.5,195.3 439.5,194.8 440.5,194.3 441.5,193.3 442.5,192.8 443.5,192.1 444.5,191.4 445.5,190.7 446.5,190.0 447.5,189.4 448.5,188.5 449.5,187.8 450.5,187.0 451.5,186.0 452.5,185.3 453.5,184.6 454.5,183.6 455.5,182.5 456.5,181.7 457.5,180.7 458.5,179.9 459.5,179.0 460.5,177.8 461.5,176.9 462.5,176.0 463.5,174.8 464.5,173.9 465.5,172.7 466.5,171.7 467.5,170.7 468.5,169.9 469.5,168.6 470.5,167.5 471.5,166.4 472.5,165.4 473.5,164.4 474.5,163.2 475.5,162.3 476.5,161.0 477.5,160.1 478.5,158.8 479.5,157.7 480.5,156.4 481.5,155.4 482.5,154.3 483.5,153.2 484.5,151.8 485.5,151.1 486.5,149.8 487.5,148.7 488.5,147.6 489.5,146.5 490.5,145.5 491.5,144.2 492.5,143.1 493.5,142.2 494.5,141.1 495.5,139.9 496.5,138.8 497.5,137.7 498.5,136.7 499.5,135.8 500.5,134.5 501.5,133.8 502.5,132.6 503.5,131.5 504.5,130.6 505.5,129.3 506.5,128.3 507.5,127.3 508.5,126.5 509.5,125.5 510.5,124.5 511.5,123.7 512.5,122.5 513.5,121.8 514.5,120.7 515.5,119.9 516.5,119.1 517.5,118.1 518.5,117.2 519.5,116.4 520.5,115.8 521.5,115.0 522.5,114.2 523.5,113.3 524.5,112.6 525.5,111.8 526.5,111.3 527.5,110.3 528.5,110.0 529.5,109.1 530.5,108.5 531.5,108.0 532.5,107.5 533.5,106.8 534.5,106.3 535.5,105.7 536.5,105.3 537.5,104.7 538.5,104.0 539.5,103.7 540.5,103.0 541.5,102.4 542.5,101.8 543.5,101.3 544.5,100.9 545.5,100.1 546.5,99.8 547.5,99.1 548.5,98.5 549.5,97.6 550.5,97.2 551.5,96.7 552.5,95.9 553.5,95.3 554.5,94.4 555.5,94.1 556.5,93.2 557.5,92.7 558.5,91.7 559.5,91.4 560.5,90.6 561.5,90.1 562.5,89.2 563.5,88.6 564.5,88.3 565.5,87.3 566.5,86.6 567.5,86.1 568.5,85.4 569.5,85.1 570.5,84.5 571.5,83.7 572.5,83.0 573.5,82.8 574.5,82.2 575.5,81.6 576.5,81.1 577.5,80.4 578.5,79.9 579.5,79.3 580.5,78.8 581.5,78.6 582.5,77.9 583.5,77.8 584.5,77.0 585.5,76.5 586.5,76.2 587.5,75.9 588.5,75.3 589.5,74.6 590.5,74.4 591.5,74.1 592.5,73.5 593.5,73.0 594.5,72.8 595.5,72.3 596.5,71.8 597.5,71.5 598.5,71.0 599.5,70.8 600.5,70.4 601.5,70.2 602.5,69.7 603.5,69.1 604.5,69.0 605.5,68.7 606.5,68.3 607.5,68.0 608.5,67.5 609.5,67.1 610.5,67.0 611.5,66.4 612.5,65.9 613.5,66.0 614.5,65.5 615.5,65.2 616.5,64.7 617.5,64.4 618.5,64.1 619.5,63.9 620.5,63.6 621.5,63.0 622.5,63.0 623.5,62.5 624.5,62.2 625.5,62.1 626.5,61.7 627.5,61.2 628.5,61.2 629.5,60.6 630.5,60.4 631.5,60.1 632.5,59.9 633.5,59.3 634.5,59.2 635.5,58.6 636.5,58.5 637.5,57.9 638.5,57.6 639.5,57.5 640.5,57.0 641.5,56.6 642.5,56.5 643.5,55.9 644.5,55.4 645.5,55.2 646.5,54.6 647.5,54.5 648.0,54.3"/>
<polyline stroke="#3f3fae" stroke-width="0.9" points="386.5,201.0 387.5,200.8 388.5,200.7 389.5,200.5 390.5,200.2 391.5,200.3 392.5,199.8 393.5,199.8 394.5,199.7 395.5,199.5 396.5,199.4 397.5,199.1 398.5,199.2 399.5,198.9 400.5,198.7 401.5,198.4 402.5,198.3 403.5,198.3 404.5,197.9 405.5,197.9 406.5,197.8 407.5,197.6 408.5,197.5 409.5,197.0 410.5,196.7 411.5,196.8 412.5,196.4 413.5,196.3 414.5,195.9 415.5,195.8 416.5,195.5 417.5,195.2 418.5,194.8 419.5,194.5 420.5,194.2 421.5,193.8 422.5,193.6 423.5,193.0 424.5,192.9 425.5,192.3 426.5,192.0 427.5,191.4 428.5,191.0 429.5,190.8 430.5,190.0 431.5,189.4 432.5,188.9 433.5,188.5 434.5,188.2 435.5,187.4 436.5,186.9 437.5,186.1 438.5,185.6 439.5,185.0 440.5,184.5 441.5,183.5 442.5,183.0 443.5,182.2 444.5,181.4 445.5,180.8 446.5,180.0 447.5,179.0 448.5,178.6 449.5,177.8 450.5,176.8 451.5,175.9 452.5,175.4 453.5,174.4 454.5,173.6 455.5,172.8 456.5,171.7 457.5,170.9 458.5,169.9 459.5,169.0 460.5,168.1 461.5,167.1 462.5,166.3 463.5,165.2 464.5,164.2 465.5,163.2 466.5,162.2 467.5,161.1 468.5,160.1 469.5,159.1 470.5,158.0 471.5,157.1 472.5,156.0 473.5,155.2 474.5,154.1 475.5,153.0 476.5,151.8 477.5,151.1 478.5,149.8 479.5,148.7 480.5,147.7 481.5,146.6 482.5,145.7 483.5,144.5 484.5,143.7 485.5,142.3 486.5,141.4 487.5,140.2 488.5,139.5 489.5,138.2 490.5,137.2 491.5,136.3 492.5,135.3 493.5,134.0 494.5,133.1 495.5,132.0 496.5,131.2 497.5,130.2 498.5,129.2 499.5,128.2 500.5,127.3 501.5,126.2 502.5,125.4 503.5,124.6 504.5,123.3 505.5,122.5 506.5,121.6 507.5,120.8 508.5,119.7 509.5,118.9 510.5,117.9 511.5,117.2 512.5,116.2 513.5,115.3 514.5,114.5 515.5,113.6 516.5,112.5 517.5,111.9 518.5,111.1 519.5,110.2 520.5,109.5 521.5,108.7 522.5,107.6 523.5,106.8 524.5,106.3 525.5,105.5 526.5,104.5 527.5,103.6 528.5,102.9 529.5,102.2 530.5,101.3 531.5,100.7 532.5,99.8 533.5,99.1 534.5,98.6 535.5,97.7 536.5,97.1 537.5,96.5 538.5,95.8 539.5,94.9 540.5,94.3 541.5,93.5 542.5,93.2 543.5,92.4 544.5,91.5 545.5,91.0 546.5,90.4 547.5,89.7 548.5,89.2 549.5,88.5 550.5,87.7 551.5,87.1 552.5,86.4 553.5,85.9 554.5,85.3 555.5,85.0 556.5,84.1 557.5,83.3 558.5,82.9 559.5,82.4 560.5,81.6 561.5,81.1 562.5,80.6 563.5,80.1 564.5,79.5 565.5,78.9 566.5,78.6 567.5,77.9 568.5,77.3 569.5,76.7 570.5,76.2 571.5,75.9 572.5,75.1 573.5,74.8 574.5,74.4 575.5,73.8 576.5,73.3 577.5,72.7 578.5,72.5 579.5,72.0 580.5,71.4 581.5,70.7 582.5,70.3 583.5,70.1 584.5,69.7 585.5,69.1 586.5,68.7 587.5,68.0 588.5,67.6 589.5,67.2 590.5,66.8 591.5,66.1 592.5,66.0 593.5,65.6 594.5,64.9 595.5,64.4 596.5,64.2 597.5,63.7 598.5,63.1 599.5,63.0 600.5,62.5 601.5,62.1 602.5,62.0 603.5,61.3 604.5,60.8 605.5,60.5 606.5,60.0 607.5,59.6 608.5,59.4 609.5,58.9 610.5,58.5 611.5,58.4 612.5,57.9 613.5,57.5 614.5,57.1 615.5,56.7 616.5,56.5 617.5,55.9 618.5,55.8 619.5,55.1 620.5,54.8 621.5,54.3 622.5,54.0 623.5,53.8 624.5,53.5 625.5,52.9 626.5,52.6 627.5,52.2 628.5,51.8 629.5,51.4 630.5,51.2 631.5,50.7 632.5,50.5 633.5,50.2 634.5,49.7 635.5,49.3 636.5,49.0 637.5,49.0 638.5,48.3 639.5,48.3 640.5,47.8 641.5,47.3 642.5,46.9 643.5,46.8 644.5,46.6 645.5,45.9 646.5,45.6 647.5,45.4 648.0,45.2"/>
</g>
<g fill="none" stroke-width="1">
<line x1="386.5" y1="16.5" x2="648.0" y2="16.5" stroke="#333"/>
<line x1="386.5" y1="16.5" x2="386.5" y2="208.0" stroke="#333"/>
<line x1="648.0" y1="16.5" x2="648.0" y2="208.0" stroke="#555"/>
<line x1="386.5" y1="208.0" x2="648.0" y2="208.0" stroke="#555"/>
</g>
<g stroke="#333" stroke-width="1">
<line x1="386.50" y1="208.0" x2="386.50" y2="211.9"/>
<line x1="408.29" y1="208.0" x2="408.29" y2="209.9"/>
<line x1="430.08" y1="208.0" x2="430.08" y2="211.9"/>
<line x1="451.88" y1="208.0" x2="451.88" y2="209.9"/>
<line x1="473.67" y1="208.0" x2="473.67" y2="211.9"/>
<line x1="495.46" y1="208.0" x2="495.46" y2="209.9"/>
<line x1="517.25" y1="208.0" x2="517.25" y2="211.9"/>
<line x1="539.04" y1="208.0" x2="539.04" y2="209.9"/>
<line x1="560.83" y1="208.0" x2="560.83" y2="211.9"/>
<line x1="582.62" y1="208.0" x2="582.62" y2="209.9"/>
<line x1="604.42" y1="208.0" x2="604.42" y2="211.9"/>
<line x1="626.21" y1="208.0" x2="626.21" y2="209.9"/>
<line x1="648.00" y1="208.0" x2="648.00" y2="211.9"/>
<line x1="383.0" y1="203.50" x2="386.5" y2="203.50"/>
<line x1="384.7" y1="180.12" x2="386.5" y2="180.12"/>
<line x1="383.0" y1="156.75" x2="386.5" y2="156.75"/>
<line x1="384.7" y1="133.38" x2="386.5" y2="133.38"/>
<line x1="383.0" y1="110.00" x2="386.5" y2="110.00"/>
<line x1="384.7" y1="86.62" x2="386.5" y2="86.62"/>
<line x1="383.0" y1="63.25" x2="386.5" y2="63.25"/>
<line x1="384.7" y1="39.88" x2="386.5" y2="39.88"/>
<line x1="383.0" y1="16.50" x2="386.5" y2="16.50"/>
</g>
<g font-size="10" fill="#222" text-anchor="middle">
<text x="386.5" y="223.4">−20</text>
<text x="430.1" y="223.4">−10</text>
<text x="473.7" y="223.4">0</text>
<text x="517.2" y="223.4">10</text>
<text x="560.8" y="223.4">20</text>
<text x="604.4" y="223.4">30</text>
<text x="648.0" y="223.4">40</text>
</g>
<g font-size="9.6" fill="#222" text-anchor="end" letter-spacing="-0.3">
<text x="379.2" y="206.8">0</text>
<text x="379.2" y="160.1">2000</text>
<text x="379.2" y="113.3">4000</text>
<text x="379.2" y="66.5">6000</text>
<text x="379.2" y="19.8">8000</text>
</g>
<text transform="translate(352.3,113.4) rotate(-90)" font-size="10.3" fill="#222" text-anchor="middle">Responsivity (A W<tspan dy="-3.8" font-size="5.9">−1</tspan><tspan dy="3.8">)</tspan></text>
<text x="503.6" y="238.3" font-size="10" fill="#222"><tspan font-style="italic">V</tspan><tspan font-size="7.2" dy="2.6">G</tspan><tspan dy="-2.6"> (V)</tspan></text>
<text x="341" y="12.6" font-size="14.5" font-weight="bold" fill="#111">b</text>
<g font-size="9" fill="#222" text-anchor="end">
<text x="672.7" y="45.0">1 L</text>
<text x="672.7" y="56.6">2 L</text>
<text x="672.7" y="101.7">0.5 L</text>
<text x="672.7" y="140.1">4 L</text>
<text x="672.7" y="160.9">0.1 L</text>
<text x="672.7" y="181.6">6 L</text>
</g>
<text x="650.8" y="204.4" font-size="10.3" fill="#222">w/o QD</text>
<rect x="388.5" y="18.5" width="100.5" height="101.5" fill="#fff" stroke="#999" stroke-width="0.8"/>
<g stroke="#555" stroke-width="0.8">
<line x1="395.2" y1="120.0" x2="395.2" y2="122.0"/>
<line x1="409.7" y1="120.0" x2="409.7" y2="122.0"/>
<line x1="424.2" y1="120.0" x2="424.2" y2="122.0"/>
<line x1="438.7" y1="120.0" x2="438.7" y2="122.0"/>
<line x1="453.2" y1="120.0" x2="453.2" y2="122.0"/>
<line x1="467.7" y1="120.0" x2="467.7" y2="122.0"/>
<line x1="482.2" y1="120.0" x2="482.2" y2="122.0"/>
<line x1="489.0" y1="116.10" x2="491.5" y2="116.10"/>
<line x1="489.0" y1="103.85" x2="490.5" y2="103.85"/>
<line x1="489.0" y1="91.60" x2="491.5" y2="91.60"/>
<line x1="489.0" y1="79.35" x2="490.5" y2="79.35"/>
<line x1="489.0" y1="67.10" x2="491.5" y2="67.10"/>
<line x1="489.0" y1="54.85" x2="490.5" y2="54.85"/>
<line x1="489.0" y1="42.60" x2="491.5" y2="42.60"/>
<line x1="489.0" y1="30.35" x2="490.5" y2="30.35"/>
</g>
<g font-size="8.5" fill="#222" text-anchor="middle">
<text x="395.2" y="131.3">0</text>
<text x="409.7" y="131.3">0.1</text>
<text x="424.2" y="131.3">0.5</text>
<text x="438.7" y="131.3">1</text>
<text x="453.2" y="131.3">2</text>
<text x="467.7" y="131.3">4</text>
<text x="482.2" y="131.3">6</text>
</g>
<g font-size="8.9" fill="#222" text-anchor="start">
<text x="493.3" y="119.1">0</text>
<text x="493.3" y="94.6">2000</text>
<text x="493.3" y="70.1">4000</text>
<text x="493.3" y="45.6">6000</text>
</g>
<text x="439" y="143.1" font-size="8.7" fill="#222" text-anchor="middle">QD Thickness</text>
<text x="439" y="153.6" font-size="8.7" fill="#222" text-anchor="middle">(Layer #)</text>
<text transform="translate(518.7,69.4) rotate(90)" font-size="8.7" fill="#222" text-anchor="middle"><tspan font-style="italic">R</tspan> (A W<tspan dy="-2.9" font-size="5.6">−1</tspan><tspan dy="2.9">)</tspan></text>
<polyline fill="none" stroke="#111" stroke-width="0.9" points="395.2,115.7 409.7,92.8 424.2,61.3 438.7,32.8 453.2,37.7 467.7,81.8 482.2,103.3"/>
<polyline fill="none" stroke="#111" stroke-width="0.9" points="395.2,116.5 409.7,99.6 424.2,81.8 438.7,53.3 453.2,56.5 467.7,92.6 482.2,106.7"/>
<polyline fill="none" stroke="#ee1111" stroke-width="0.9" points="395.2,117.0 409.7,112.3 424.2,105.7 438.7,91.2 453.2,96.5 467.7,110.4 482.2,114.0"/>
<circle cx="395.2" cy="115.7" r="3.3" fill="#1010e8"/>
<circle cx="409.7" cy="92.8" r="3.3" fill="#1010e8"/>
<circle cx="424.2" cy="61.3" r="3.3" fill="#1010e8"/>
<circle cx="438.7" cy="32.8" r="3.3" fill="#1010e8"/>
<circle cx="453.2" cy="37.7" r="3.3" fill="#1010e8"/>
<circle cx="467.7" cy="81.8" r="3.3" fill="#1010e8"/>
<circle cx="482.2" cy="103.3" r="3.3" fill="#1010e8"/>
<circle cx="395.2" cy="116.5" r="3.3" fill="#000000"/>
<circle cx="409.7" cy="99.6" r="3.3" fill="#000000"/>
<circle cx="424.2" cy="81.8" r="3.3" fill="#000000"/>
<circle cx="438.7" cy="53.3" r="3.3" fill="#000000"/>
<circle cx="453.2" cy="56.5" r="3.3" fill="#000000"/>
<circle cx="467.7" cy="92.6" r="3.3" fill="#000000"/>
<circle cx="482.2" cy="106.7" r="3.3" fill="#000000"/>
<circle cx="395.2" cy="117.0" r="3.3" fill="#ee1111"/>
<circle cx="409.7" cy="112.3" r="3.3" fill="#ee1111"/>
<circle cx="424.2" cy="105.7" r="3.3" fill="#ee1111"/>
<circle cx="438.7" cy="91.2" r="3.3" fill="#ee1111"/>
<circle cx="453.2" cy="96.5" r="3.3" fill="#ee1111"/>
<circle cx="467.7" cy="110.4" r="3.3" fill="#ee1111"/>
<circle cx="482.2" cy="114.0" r="3.3" fill="#ee1111"/>
<g font-size="8.5" fill="#222" text-anchor="middle">
<text x="442.7" y="27.7">40 V</text>
<text x="442.7" y="71.6">20 V</text>
<text x="442.7" y="106.7">0 V</text>
</g>
</g>
</svg>
</body></html>
